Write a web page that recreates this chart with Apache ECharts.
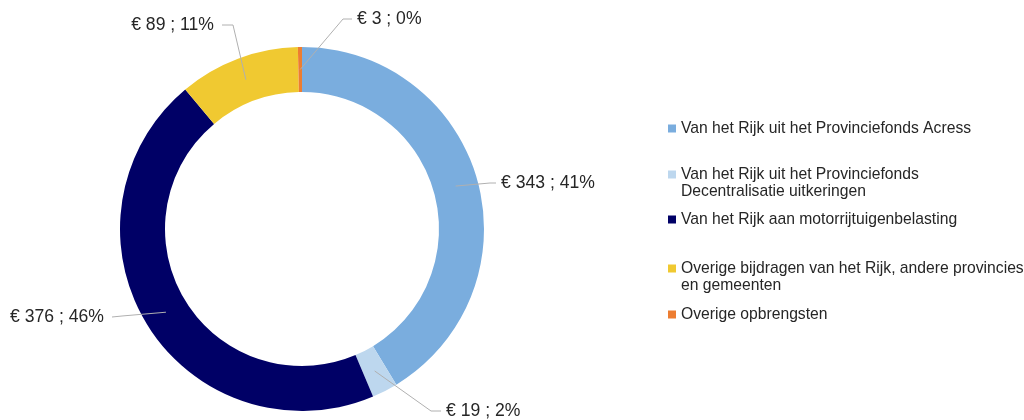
<!DOCTYPE html>
<html>
<head>
<meta charset="utf-8">
<script src="https://cdn.jsdelivr.net/npm/echarts@6/dist/echarts.min.js"></script>
<style>
  html, body { margin: 0; background: #fff; }
  #chart { width: 1024px; height: 420px; }
</style>
</head>
<body>
<div id="chart"></div>
<script>
var categories = [
    'Van het Rijk uit het Provinciefonds Acress',
    'Van het Rijk uit het Provinciefonds\nDecentralisatie uitkeringen',
    'Van het Rijk aan motorrijtuigenbelasting',
    'Overige bijdragen van het Rijk, andere provincies\nen gemeenten',
    'Overige opbrengsten'
];
var values = [343, 19, 376, 89, 3];
var percents = [41, 2, 46, 11, 0];

var colors = ['#7AADDE', '#BDD7EE', '#000066', '#F0C931', '#ED7D31'];

// ring geometry
var CX = 302, CY = 229, R0 = 137, R1 = 182;

// where each leader line bends / ends, and which side the text goes
var labelSpots = [
    { elbow: [490, 183], end: [496, 183], side: 'left' },
    { elbow: [431, 411], end: [441, 411], side: 'left' },
    { elbow: [122, 316], end: [112, 317], side: 'right' },
    { elbow: [233, 25],  end: [222, 25],  side: 'right' },
    { elbow: [343, 19],  end: [352, 19],  side: 'left' }
];

// first-line centre of each legend entry
var legendRows = [128.5, 174.5, 219.5, 268.5, 314.5];

var chart = echarts.init(document.getElementById('chart'));

var total = values.reduce(function (a, b) { return a + b; }, 0);

function midAngle(idx) {
    var before = 0;
    for (var i = 0; i < idx; i++) before += values[i];
    return (before + values[idx] / 2) / total * Math.PI * 2;
}

var pieData = categories.map(function (c, i) {
    return { name: c, value: values[i] };
});

// two-line entries get an empty line on top so the square sits on line one
var legends = categories.map(function (name, i) {
    var twoLines = name.indexOf('\n') >= 0;
    return {
        data: [name],
        orient: 'vertical',
        left: 668,
        top: twoLines ? legendRows[i] - 25.5 : legendRows[i] - 8.5,
        padding: 0,
        icon: 'rect',
        itemWidth: 8,
        itemHeight: 8,
        itemGap: 0,
        selectedMode: false,
        formatter: function (n) {
            return n.indexOf('\n') >= 0 ? '\n' + n : n;
        },
        textStyle: {
            fontFamily: 'Arial, "Liberation Sans", sans-serif',
            fontSize: 15.7,
            lineHeight: 17,
            color: '#262626'
        }
    };
});

var option = {
    animation: false,
    color: colors,
    legend: legends,
    series: [{
        // the coloured ring
        name: 'Opbrengsten',
        type: 'pie',
        center: [CX, CY],
        radius: [R0, R1],
        startAngle: 90,
        silent: true,
        data: pieData,
        label: { show: false },
        labelLine: { show: false }
    }, {
        // same ring, see-through, on top: carries labels so leader lines cross the ring
        name: 'Labels',
        type: 'pie',
        z: 5,
        center: [CX, CY],
        radius: [R0, R1],
        startAngle: 90,
        silent: true,
        avoidLabelOverlap: false,
        data: pieData,
        itemStyle: { color: 'rgba(0,0,0,0)' },
        label: {
            show: true,
            position: 'outside',
            fontFamily: 'Arial, "Liberation Sans", sans-serif',
            fontSize: 17.6,
            color: '#262626',
            formatter: function (p) {
                return '€ ' + values[p.dataIndex] + ' ; ' + percents[p.dataIndex] + '%';
            }
        },
        labelLine: {
            show: true,
            length: 10,
            length2: 10,
            smooth: false,
            lineStyle: { color: '#B0B0B0', width: 1 }
        },
        labelLayout: function (params) {
            var i = params.dataIndex;
            var a = midAngle(i);
            var rm = (R0 + R1) / 2;
            var start = [CX + rm * Math.sin(a), CY - rm * Math.cos(a)];
            var s = labelSpots[i];
            var gap = s.side === 'left' ? 5 : -8;
            return {
                x: s.end[0] + gap,
                y: s.end[1],
                align: s.side,
                verticalAlign: 'middle',
                labelLinePoints: [start, s.elbow, s.end]
            };
        }
    }]
};

chart.setOption(option);
</script>
</body>
</html>
